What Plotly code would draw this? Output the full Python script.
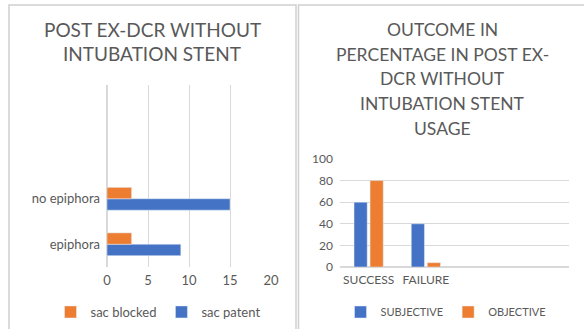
import plotly.graph_objects as go

W, H = 584, 329

# ---- data ----
left_title = ["POST EX-DCR WITHOUT", "INTUBATION STENT"]
left_categories = ["epiphora", "no epiphora"]
sac_patent = [9, 15]
sac_blocked = [3, 3]
left_ticks = [0, 5, 10, 15, 20]

right_title = ["OUTCOME IN", "PERCENTAGE IN POST EX-", "DCR WITHOUT", "INTUBATION STENT", "USAGE"]
right_categories = ["SUCCESS", "FAILURE"]
subjective = [60, 40]
objective = [80, 4]
right_ticks = [0, 20, 40, 60, 80, 100]

BLUE = "#4472c4"
ORANGE = "#ed7d31"
TXT = "#595959"
GRID = "#d9d9d9"
FONT = "Lato"


def px(x):
    return x / W


def py(y):
    return 1 - y / H


fig = go.Figure()

# left chart (horizontal bars)
fig.add_trace(go.Bar(y=left_categories, x=sac_patent, orientation="h", name="sac patent",
                     marker_color=BLUE, width=0.25, offset=-0.25, xaxis="x", yaxis="y",
                     legend="legend", legendrank=2))
fig.add_trace(go.Bar(y=left_categories, x=sac_blocked, orientation="h", name="sac blocked",
                     marker_color=ORANGE, width=0.25, offset=0.0, xaxis="x", yaxis="y",
                     legend="legend", legendrank=1))

# right chart (vertical bars)
fig.add_trace(go.Bar(x=right_categories, y=subjective, name="SUBJECTIVE",
                     marker_color=BLUE, width=0.23, offset=-0.255, xaxis="x2", yaxis="y2",
                     legend="legend2", legendrank=1))
fig.add_trace(go.Bar(x=right_categories, y=objective, name="OBJECTIVE",
                     marker_color=ORANGE, width=0.23, offset=0.025, xaxis="x2", yaxis="y2",
                     legend="legend2", legendrank=2))

tickfont = dict(family=FONT, size=13, color=TXT)

fig.update_layout(
    width=W, height=H,
    margin=dict(l=0, r=0, t=0, b=0, autoexpand=False),
    paper_bgcolor="white", plot_bgcolor="white",
    barmode="overlay",
    font=dict(family=FONT, color=TXT),
    xaxis=dict(domain=[px(107), px(271)], range=[0, 20], tickvals=left_ticks,
               showgrid=True, gridcolor=GRID, gridwidth=1, zeroline=True, zerolinecolor=GRID,
               showline=False, ticks="", tickfont=tickfont, anchor="y", fixedrange=True,
               automargin=False, ticklabelstandoff=4),
    yaxis=dict(domain=[py(267), py(85)], type="category", categoryarray=left_categories,
               range=[-0.5, 3.5], showgrid=False, zeroline=False, showline=False, ticks="",
               tickfont=tickfont, ticklabelstandoff=6, anchor="x", automargin=False),
    xaxis2=dict(domain=[px(340), px(569)], type="category", categoryarray=right_categories,
                range=[-0.5, 3.5], showgrid=False, showline=False, ticks="",
                tickfont=dict(family=FONT, size=12, color=TXT), anchor="y2", ticklabelstandoff=4,
                automargin=False),
    yaxis2=dict(domain=[py(267), py(159)], range=[0, 100], tickvals=right_ticks,
                showgrid=True, gridcolor=GRID, zeroline=True, zerolinecolor=GRID,
                showline=False, ticks="", tickfont=dict(family=FONT, size=12, color=TXT),
                ticklabelstandoff=6, anchor="x2", automargin=False),
    legend=dict(orientation="h", x=px(158), y=py(312), xanchor="center", yanchor="middle",
                font=dict(family=FONT, size=13, color=TXT), bgcolor="rgba(0,0,0,0)",
                itemwidth=30, tracegroupgap=0),
    legend2=dict(orientation="h", x=px(446), y=py(312), xanchor="center", yanchor="middle",
                 font=dict(family=FONT, size=11, color=TXT), bgcolor="rgba(0,0,0,0)",
                 itemwidth=30),
    showlegend=True,
)

annotations = []
for i, line in enumerate(left_title):
    annotations.append(dict(text=line, x=px(152), y=py(30 + 23.5 * i), xref="paper", yref="paper",
                            xanchor="center", yanchor="middle", showarrow=False,
                            font=dict(family=FONT, size=19, color=TXT)))
for i, line in enumerate(right_title):
    annotations.append(dict(text=line, x=px(442), y=py(30 + 24.5 * i), xref="paper", yref="paper",
                            xanchor="center", yanchor="middle", showarrow=False,
                            font=dict(family=FONT, size=17.5, color=TXT)))
fig.update_layout(annotations=annotations)

shapes = [
    dict(type="rect", xref="paper", yref="paper", x0=px(9), x1=px(296), y0=py(340), y1=py(5),
         line=dict(color="#d0d0d0", width=1.5), fillcolor="rgba(0,0,0,0)", layer="below"),
    dict(type="rect", xref="paper", yref="paper", x0=px(298.5), x1=px(600), y0=py(340), y1=py(5),
         line=dict(color="#d0d0d0", width=1.5), fillcolor="rgba(0,0,0,0)", layer="below"),
]
fig.update_layout(shapes=shapes)

fig.write_html("out.html", config={"displayModeBar": False},
               post_script="document.body.style.margin='0px';document.body.style.overflow='hidden';")
